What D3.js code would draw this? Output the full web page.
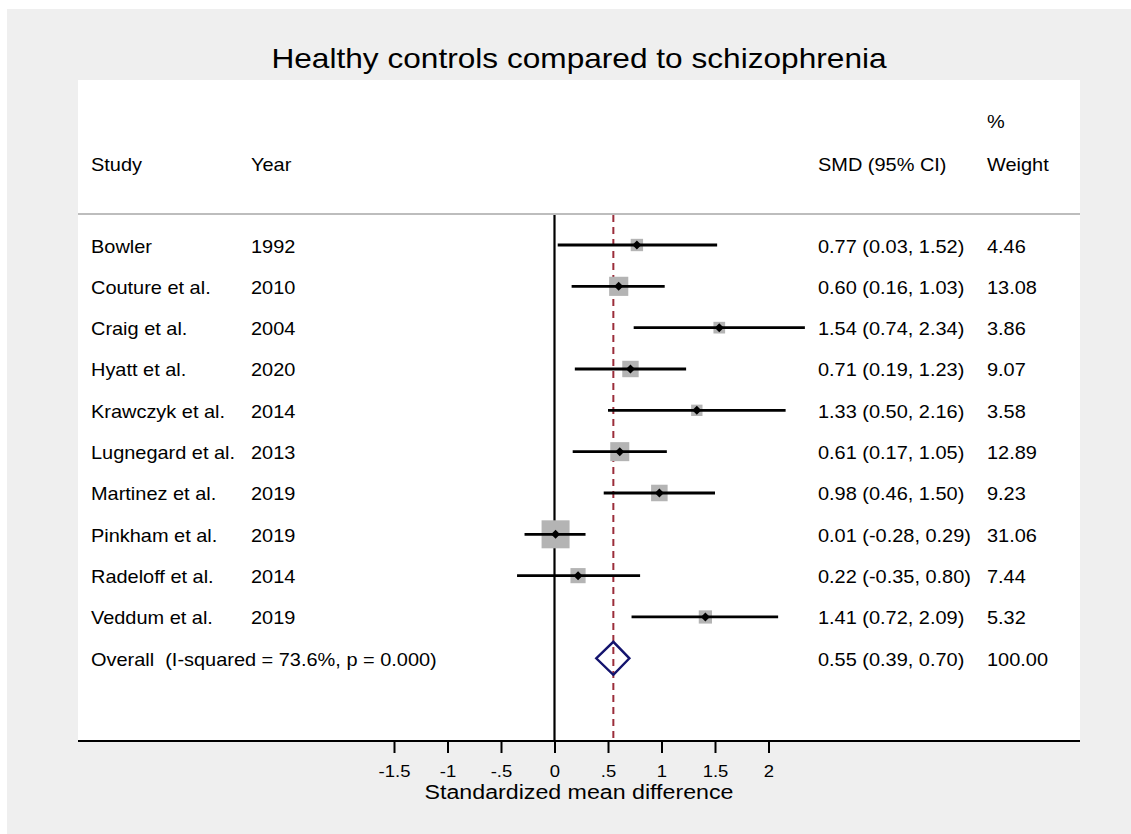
<!DOCTYPE html>
<html>
<head>
<meta charset="utf-8">
<script src="https://cdn.jsdelivr.net/npm/d3@7"></script>
<style>
	body{margin:0;background:#fff;}
	text{font-family:"Liberation Sans",Arial,Helvetica,sans-serif;fill:#000;white-space:pre;}
</style>
</head>
<body>
<div id="chart"></div>
<script>

const studies = ['Bowler','Couture et al.','Craig et al.','Hyatt et al.','Krawczyk et al.','Lugnegard et al.','Martinez et al.','Pinkham et al.','Radeloff et al.','Veddum et al.'];
const years = [1992,2010,2004,2020,2014,2013,2019,2019,2014,2019];
const smd = [0.77,0.60,1.54,0.71,1.33,0.61,0.98,0.01,0.22,1.41];
const ciLow = [0.03,0.16,0.74,0.19,0.50,0.17,0.46,-0.28,-0.35,0.72];
const ciHigh = [1.52,1.03,2.34,1.23,2.16,1.05,1.50,0.29,0.80,2.09];
const weights = [4.46,13.08,3.86,9.07,3.58,12.89,9.23,31.06,7.44,5.32];

const overall = {label:'Overall  (I-squared = 73.6%, p = 0.000)', smd:0.55, lo:0.39, hi:0.70, weight:100.00};

const tickValues = [-1.5,-1,-0.5,0,0.5,1,1.5,2];
const tickLabels = ['-1.5','-1','-.5','0','.5','1','1.5','2'];

const W = 1131, H = 834;
const sx = 1.14; // text in the picture is stretched sideways
const fmt = d3.format('.2f');
const f2 = function(v){return fmt(v).replace('\u2212','-')};

const svg = d3.select('#chart').append('svg')
	.attr('width', W)
	.attr('height', H);

// text helper, keeps the horizontal stretch
function txt(g, x, y, s, size, anchor, stretch){
	return g.append('text')
		.attr('transform', `translate(${x},${y}) scale(${stretch || sx},1)`)
		.attr('font-size', size)
		.attr('text-anchor', anchor || 'start')
		.text(s);
}

svg.append('rect')
	.attr('x',7).attr('y',9)
	.attr('width',W-7).attr('height',H-9)
	.attr('fill','#efefef');

svg.append('rect')
	.attr('x',78).attr('y',80)
	.attr('width',1002).attr('height',661)
	.attr('fill','#fff');

txt(svg, 579, 68, 'Healthy controls compared to schizophrenia', 28, 'middle', 1.13);

const scaleX = d3.scaleLinear().domain([-1.5,2]).range([394,768.5]);
const scaleY = d3.scalePoint().domain(d3.range(11)).range([245,658.3]);
const scaleBox = d3.scaleSqrt().domain([0,100]).range([2.8,48]);

////////////////////////////////////////////////////////////////////
// header

const head = svg.append('g').attr('class','head');
txt(head, 91, 171, 'Study', 17.5);
txt(head, 251, 171, 'Year', 17.5);
txt(head, 818, 171, 'SMD (95% CI)', 17.5);
txt(head, 987, 128, '%', 17.5);
txt(head, 987, 171, 'Weight', 17.5);

svg.append('line')
	.attr('x1',78).attr('x2',1080)
	.attr('y1',214).attr('y2',214)
	.attr('stroke','#bdbdbd')
	.attr('stroke-width',2);

////////////////////////////////////////////////////////////////////
// reference lines

svg.append('line')
	.attr('x1',scaleX(0)).attr('x2',scaleX(0))
	.attr('y1',215).attr('y2',741)
	.attr('stroke','#000')
	.attr('stroke-width',2.2);

svg.append('line')
	.attr('x1',scaleX(overall.smd)).attr('x2',scaleX(overall.smd))
	.attr('y1',215).attr('y2',741)
	.attr('stroke','#9b2d3a')
	.attr('stroke-width',2)
	.attr('stroke-dasharray','7,5');

////////////////////////////////////////////////////////////////////
// studies

const data = studies.map(function(d,i){
	return {study:d, year:years[i], smd:smd[i], lo:ciLow[i], hi:ciHigh[i], w:weights[i], i:i};
});

const rows = svg.selectAll('.row')
	.data(data)
	.enter()
	.append('g')
	.attr('class','row');

rows.append('rect')
	.attr('x', function(d){return scaleX(d.smd) - scaleBox(d.w)/2})
	.attr('y', function(d){return scaleY(d.i) - scaleBox(d.w)/2})
	.attr('width', function(d){return scaleBox(d.w)})
	.attr('height', function(d){return scaleBox(d.w)})
	.attr('fill','#b4b4b4');

rows.append('line')
	.attr('x1', function(d){return scaleX(d.lo)})
	.attr('x2', function(d){return scaleX(d.hi)})
	.attr('y1', function(d){return scaleY(d.i)})
	.attr('y2', function(d){return scaleY(d.i)})
	.attr('stroke','#000')
	.attr('stroke-width',2.8);

rows.append('path')
	.attr('d', function(d){
		const x = scaleX(d.smd), y = scaleY(d.i);
		return `M${x-4.5},${y}L${x},${y-4.5}L${x+4.5},${y}L${x},${y+4.5}Z`;
	})
	.attr('fill','#000');

rows.each(function(d){
	const g = d3.select(this);
	const y = scaleY(d.i) + 7.5;
	txt(g, 91, y, d.study, 17.5);
	txt(g, 251, y, String(d.year), 17.5);
	txt(g, 818, y, `${f2(d.smd)} (${f2(d.lo)}, ${f2(d.hi)})`, 17.5);
	txt(g, 987, y, f2(d.w), 17.5);
});

////////////////////////////////////////////////////////////////////
// overall

const yo = scaleY(10);
svg.append('path')
	.attr('d', `M${scaleX(overall.lo)},${yo}L${scaleX(overall.smd)},${yo-16.5}L${scaleX(overall.hi)},${yo}L${scaleX(overall.smd)},${yo+16.5}Z`)
	.attr('fill','none')
	.attr('stroke','#14146e')
	.attr('stroke-width',2.4);

txt(svg, 91, yo+7.5, overall.label, 17.5);
txt(svg, 818, yo+7.5, `${f2(overall.smd)} (${f2(overall.lo)}, ${f2(overall.hi)})`, 17.5);
txt(svg, 987, yo+7.5, f2(overall.weight), 17.5);

////////////////////////////////////////////////////////////////////
// x axis

svg.append('line')
	.attr('x1',78).attr('x2',1080)
	.attr('y1',741).attr('y2',741)
	.attr('stroke','#000')
	.attr('stroke-width',2.2);

const axisX = d3.axisBottom(scaleX)
	.tickValues(tickValues)
	.tickSize(12)
	.tickFormat(function(d,i){return tickLabels[i]});

const axisXNode = svg.append('g')
	.attr('class','axis axis-x')
	.attr('transform','translate(0,741)')
	.call(axisX);

axisXNode.select('.domain').remove();
axisXNode.selectAll('.tick line')
	.attr('stroke','#000')
	.attr('stroke-width',2);
axisXNode.selectAll('.tick text')
	.attr('y',0).attr('dy',null)
	.attr('transform','translate(0,36) scale(1.12,1)')
	.attr('font-size',16.5)
	.attr('font-family','"Liberation Sans",Arial,sans-serif')
	.attr('fill','#000');

txt(svg, 579, 799, 'Standardized mean difference', 20, 'middle', 1.16);

</script>
</body>
</html>
